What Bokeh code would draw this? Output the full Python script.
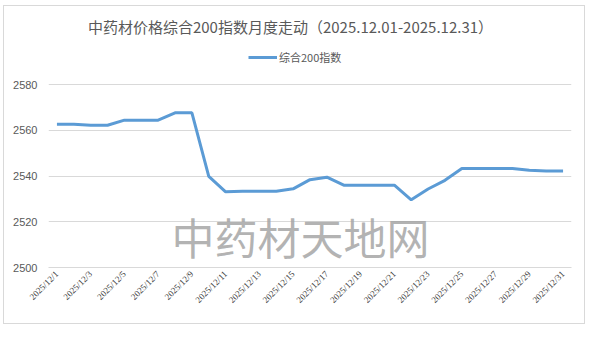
import math
from bokeh.plotting import figure
from bokeh.models import (ColumnDataSource, FixedTicker, Label, Legend, LegendItem)
from bokeh.embed import file_html
from bokeh.resources import INLINE

title_text = "中药材价格综合200指数月度走动（2025.12.01-2025.12.31）"
series_name = "综合200指数"
watermark_text = "中药材天地网"

dates = [f"2025/12/{d}" for d in range(1, 32)]
values = [2562.6, 2562.6, 2562.2, 2562.2, 2564.4, 2564.4, 2564.4, 2567.6, 2567.6,
          2539.8, 2533.1, 2533.3, 2533.3, 2533.3, 2534.4, 2538.4, 2539.5, 2536.0,
          2536.0, 2536.0, 2536.0, 2529.6, 2534.3, 2538.1, 2543.3, 2543.3, 2543.3,
          2543.3, 2542.5, 2542.2, 2542.2]
y_ticks = [2500, 2520, 2540, 2560, 2580]

idx = list(range(len(dates)))
src = ColumnDataSource(dict(x=idx, y=values, d=dates))

# y range extended upward so the title and legend sit inside the plotting frame
px_per_unit = (267 - 84) / 80.0
y_top = 2580 + (84 - 6) / px_per_unit

p = figure(width=582, height=319, output_backend="svg", toolbar_location=None,
           x_range=(-0.5, len(dates) - 0.5), y_range=(2500, y_top),
           min_border_left=44, min_border_right=15, min_border_top=0,
           min_border_bottom=58, margin=(5, 0, 0, 3),
           styles={"border": "1px solid #d9d9d9"})
p.outline_line_color = None
p.background_fill_color = "white"
p.border_fill_color = "white"

# axes
p.yaxis.ticker = FixedTicker(ticks=y_ticks)
p.yaxis.axis_line_color = None
p.yaxis.major_tick_line_color = None
p.yaxis.major_tick_out = 0
p.yaxis.major_tick_in = 0
p.yaxis.minor_tick_line_color = None
p.yaxis.major_label_standoff = 11
p.yaxis.major_label_text_font = "Liberation Sans"
p.yaxis.major_label_text_font_size = "11px"
p.yaxis.major_label_text_color = "#595959"

p.xaxis.ticker = FixedTicker(ticks=idx[::2])
p.xaxis.major_label_overrides = {i: dates[i] for i in idx[::2]}
p.xaxis.major_label_orientation = math.pi / 4
p.xaxis.axis_line_color = "#d9d9d9"
p.xaxis.major_tick_line_color = None
p.xaxis.major_tick_out = 0
p.xaxis.major_tick_in = 0
p.xaxis.minor_tick_line_color = None
p.xaxis.major_label_standoff = 5
p.xaxis.major_label_text_font = "Liberation Sans Narrow"
p.xaxis.major_label_text_font_size = "9px"
p.xaxis.major_label_text_color = "#404040"

p.xgrid.grid_line_color = None
p.ygrid.ticker = FixedTicker(ticks=y_ticks)
p.ygrid.grid_line_color = "#d9d9d9"
p.ygrid.grid_line_width = 1

# watermark (screen units relative to the frame's bottom-left)
p.add_layout(Label(x=252, y=32, x_units="screen", y_units="screen",
                   text=watermark_text, text_align="center", text_baseline="middle",
                   text_font="Noto Sans CJK SC", text_font_size="43px",
                   text_color="#a6a6a6", text_alpha=0.85, level="underlay"))

r = p.line("x", "y", source=src, line_color="#5b9bd5", line_width=3)

legend = Legend(items=[LegendItem(label=series_name, renderers=[r])],
                location=(200, 200), orientation="horizontal",
                border_line_color=None, background_fill_alpha=0,
                padding=0, margin=0, glyph_width=29, glyph_height=20,
                label_standoff=2, label_height=20,
                label_text_font="Noto Sans CJK SC", label_text_font_size="11px",
                label_text_color="#595959")
p.add_layout(legend, "center")

# title
p.add_layout(Label(x=242, y=241, x_units="screen", y_units="screen",
                   text=title_text, text_align="center", text_baseline="middle",
                   text_font="Noto Sans CJK SC", text_font_size="15px",
                   text_color="#595959"))

open("out.html", "w").write(file_html(p, INLINE))
